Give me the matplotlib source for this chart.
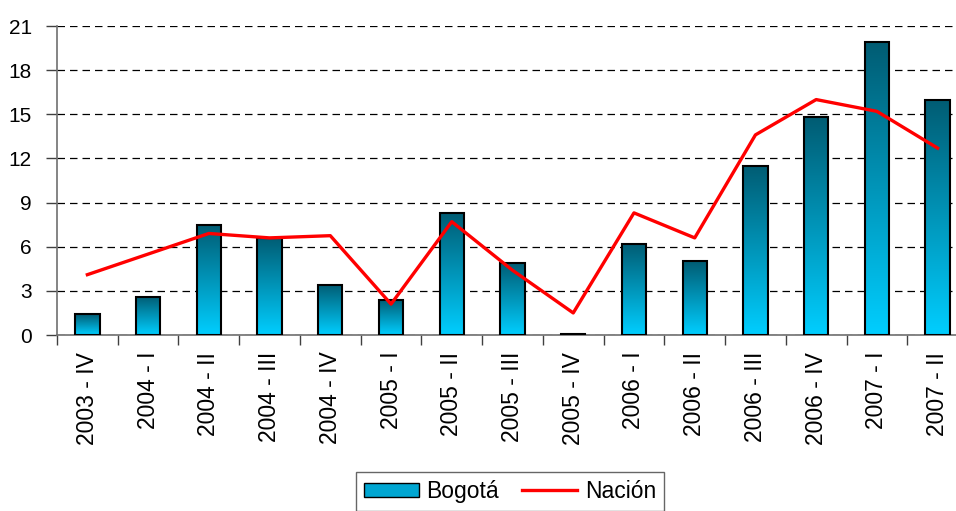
import numpy as np
import matplotlib.pyplot as plt
from matplotlib.patches import Rectangle

# ---- Data ----
periods = ["2003 - IV", "2004 - I", "2004 - II", "2004 - III", "2004 - IV",
           "2005 - I", "2005 - II", "2005 - III", "2005 - IV", "2006 - I",
           "2006 - II", "2006 - III", "2006 - IV", "2007 - I", "2007 - II"]
bogota = [1.4, 2.6, 7.5, 6.6, 3.4, 2.4, 8.3, 4.9, 0.1, 6.2, 5.0, 11.5, 14.8, 19.9, 16.0]
nacion = [4.1, 5.5, 6.9, 6.6, 6.75, 2.1, 7.7, 4.4, 1.5, 8.3, 6.6, 13.6, 16.0, 15.2, 12.7]
y_ticks = [0, 3, 6, 9, 12, 15, 18, 21]

plt.rcParams["font.family"] = ["Liberation Sans", "DejaVu Sans"]

fig = plt.figure(figsize=(9.56, 5.11), dpi=100)
ax = fig.add_axes([57 / 956, 176 / 511, 911 / 956, 309 / 511])

x = np.arange(len(periods))
bar_w = 0.4

# gradient fill: dark teal at top -> bright cyan at bottom
top_c = np.array([0, 92, 115]) / 255
bot_c = np.array([0, 206, 255]) / 255
t = np.linspace(0, 1, 256)[:, None]
grad = (bot_c * (1 - t) + top_c * t)[:, None, :]  # row 0 = bottom

bars = ax.bar(x, bogota, width=bar_w, facecolor="none", edgecolor="black",
              linewidth=1.5, zorder=4, label="Bogotá")
for b, v in zip(bars, bogota):
    x0 = b.get_x()
    im = ax.imshow(grad, extent=[x0, x0 + bar_w, 0, v], origin="lower",
                   aspect="auto", zorder=3, interpolation="bilinear")
    im.set_clip_path(b)

ax.plot(x, nacion, color="#ff0000", linewidth=2.4, zorder=5, label="Nación")

ax.set_xlim(-0.5, len(periods) - 0.5)
ax.set_ylim(0, 21)
ax.set_yticks(y_ticks)
ax.set_yticklabels([str(v) for v in y_ticks], fontsize=15)

# ticks at category boundaries, labels at centers
ax.set_xticks(np.arange(len(periods) + 1) - 0.5)
ax.set_xticklabels([])
ax.set_xticks(x, minor=True)
ax.set_xticklabels(periods, minor=True, rotation=90, fontsize=16.5)
ax.tick_params(axis="x", which="minor", length=0, pad=12)
ax.tick_params(axis="x", which="major", length=7, width=1, color="#404040")
ax.tick_params(axis="y", length=8, width=1, color="#404040", pad=10)

ax.grid(axis="y", color="black", linestyle=(0, (6, 4)), linewidth=0.9, zorder=1)
ax.set_axisbelow(True)
for s in ["top", "right"]:
    ax.spines[s].set_visible(False)
ax.spines["left"].set_color("#707070")
ax.spines["bottom"].set_color("#707070")
ax.spines["left"].set_linewidth(1.2)
ax.spines["bottom"].set_linewidth(1.2)

# legend
h_bar = Rectangle((0, 0), 1, 1, facecolor="#00a6d2", edgecolor="black", linewidth=1)
h_line = plt.Line2D([], [], color="#ff0000", linewidth=2.4)
leg = fig.legend([h_bar, h_line], ["Bogotá", "Nación"], loc="upper center",
                 bbox_to_anchor=(510 / 956, 1 - 472 / 511), ncol=2, fontsize=16.5,
                 frameon=True, fancybox=False, edgecolor="#404040",
                 handlelength=2.4, handleheight=0.6, handletextpad=0.35,
                 columnspacing=1.0, borderpad=0.35, borderaxespad=0)
leg.get_frame().set_linewidth(1.0)

fig.savefig("out.png", dpi=100)
